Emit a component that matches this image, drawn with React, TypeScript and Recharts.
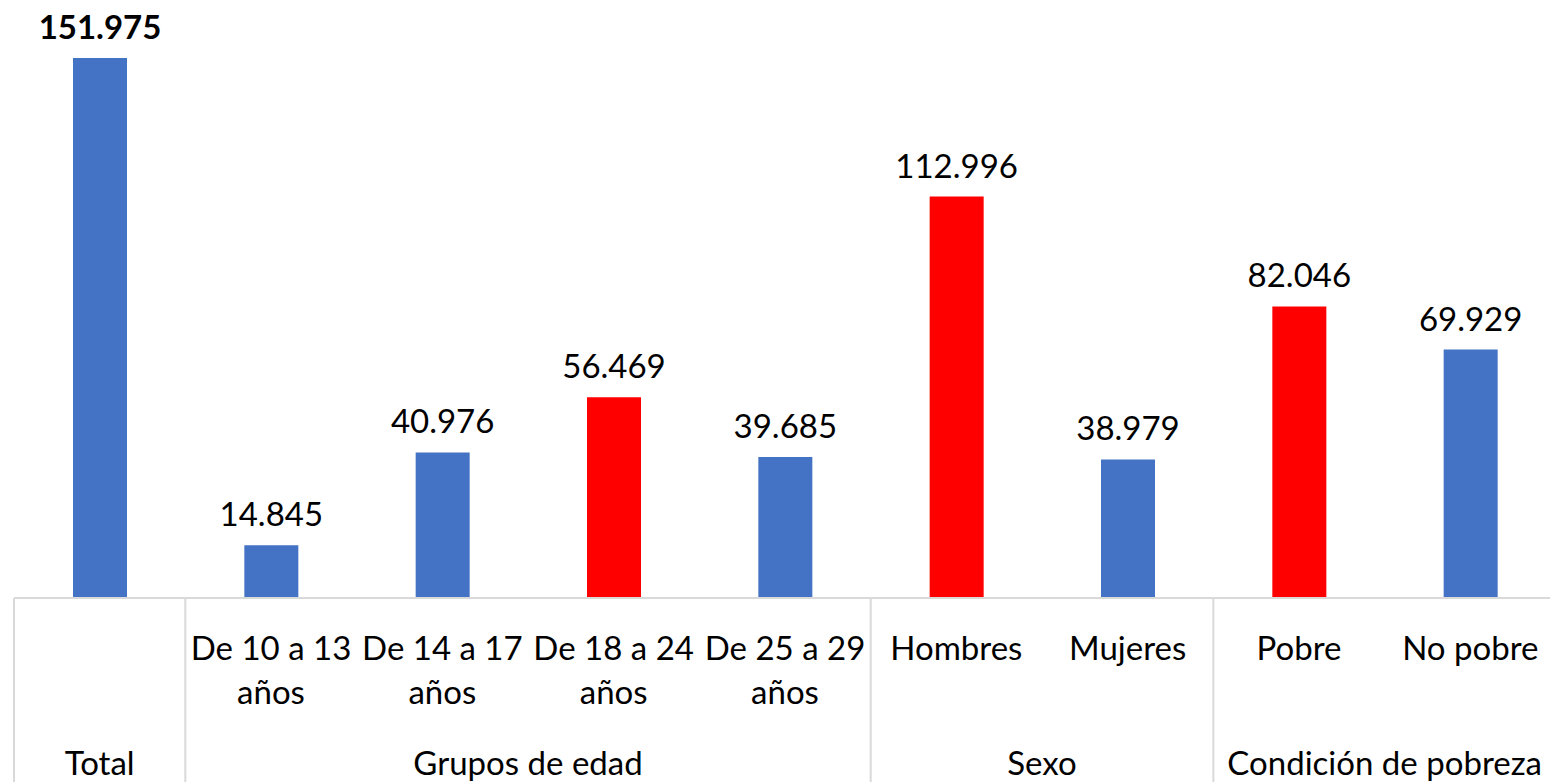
import { BarChart, Bar, XAxis, YAxis, Cell, LabelList } from 'recharts'

// Población (miles) por grupo
const categories = [
  'Total',
  'De 10 a 13 años',
  'De 14 a 17 años',
  'De 18 a 24 años',
  'De 25 a 29 años',
  'Hombres',
  'Mujeres',
  'Pobre',
  'No pobre',
]
const tickLines = [
  [],
  ['De 10 a 13', 'años'],
  ['De 14 a 17', 'años'],
  ['De 18 a 24', 'años'],
  ['De 25 a 29', 'años'],
  ['Hombres'],
  ['Mujeres'],
  ['Pobre'],
  ['No pobre'],
]
const values = [151975, 14845, 40976, 56469, 39685, 112996, 38979, 82046, 69929]
const highlighted = [false, false, false, true, false, true, false, true, false]
const groupNames = ['Total', 'Grupos de edad', 'Sexo', 'Condición de pobreza']
const groupSpans = [1, 4, 2, 2]

const BLUE = '#4472C4'
const RED = '#FF0000'
const GRID = '#D9D9D9'
const FONT = 'Lato, "Noto Sans", sans-serif'
const FONT_SIZE = 33

const CHART_W = 1558
const CHART_H = 782
const MARGIN = { top: 58, right: 2, left: 14, bottom: 0 }
const AXIS_H = 184
const AXIS_Y = CHART_H - AXIS_H
const SLOT = (CHART_W - MARGIN.left - MARGIN.right) / categories.length

const data = categories.map((name, i) => ({ name, value: values[i] }))

// group start index -> group position
const groupStarts: Record<number, number> = {}
groupSpans.reduce((start, span, g) => {
  groupStarts[start] = g
  return start + span
}, 0)

const fmt = (v: number) => (v / 1000).toFixed(3)

function CategoryTick(props: any) {
  const { x, payload } = props
  const i = payload.index
  const lines = tickLines[i] || []
  const g = groupStarts[i]
  const left = x - SLOT / 2
  return (
    <g>
      {lines.map((t, k) => (
        <text
          key={k}
          x={x}
          y={AXIS_Y + 62 + k * 44}
          textAnchor="middle"
          fontFamily={FONT}
          fontSize={FONT_SIZE}
          fill="#000"
        >
          {t}
        </text>
      ))}
      {g !== undefined && (
        <>
          <line x1={left} x2={left} y1={AXIS_Y} y2={CHART_H} stroke={GRID} strokeWidth={2} />
          <text
            x={left + (groupSpans[g] * SLOT) / 2}
            y={AXIS_Y + 177}
            textAnchor="middle"
            fontFamily={FONT}
            fontSize={FONT_SIZE}
            fill="#000"
          >
            {groupNames[g]}
          </text>
        </>
      )}
    </g>
  )
}

function ValueLabel(props: any) {
  const { x, y, width, value, index } = props
  return (
    <text
      x={x + width / 2}
      y={y - 19}
      textAnchor="middle"
      fontFamily={FONT}
      fontSize={FONT_SIZE}
      fontWeight={index === 0 ? 700 : 400}
      fill="#000"
    >
      {fmt(Number(value))}
    </text>
  )
}

export default function App() {
  return (
    <div
      style={{
        position: 'absolute',
        left: 0,
        top: 0,
        width: 1550,
        height: CHART_H,
        overflow: 'hidden',
        background: '#fff',
      }}
    >
      <BarChart width={CHART_W} height={CHART_H} data={data} margin={MARGIN} barCategoryGap={0}>
        <XAxis
          dataKey="name"
          interval={0}
          height={AXIS_H}
          tickLine={false}
          axisLine={{ stroke: GRID, strokeWidth: 2 }}
          tick={<CategoryTick />}
        />
        <YAxis hide domain={[0, 151975]} />
        <Bar dataKey="value" barSize={54} isAnimationActive={false}>
          {data.map((d, i) => (
            <Cell key={d.name} fill={highlighted[i] ? RED : BLUE} />
          ))}
          <LabelList dataKey="value" content={<ValueLabel />} />
        </Bar>
      </BarChart>
    </div>
  )
}
